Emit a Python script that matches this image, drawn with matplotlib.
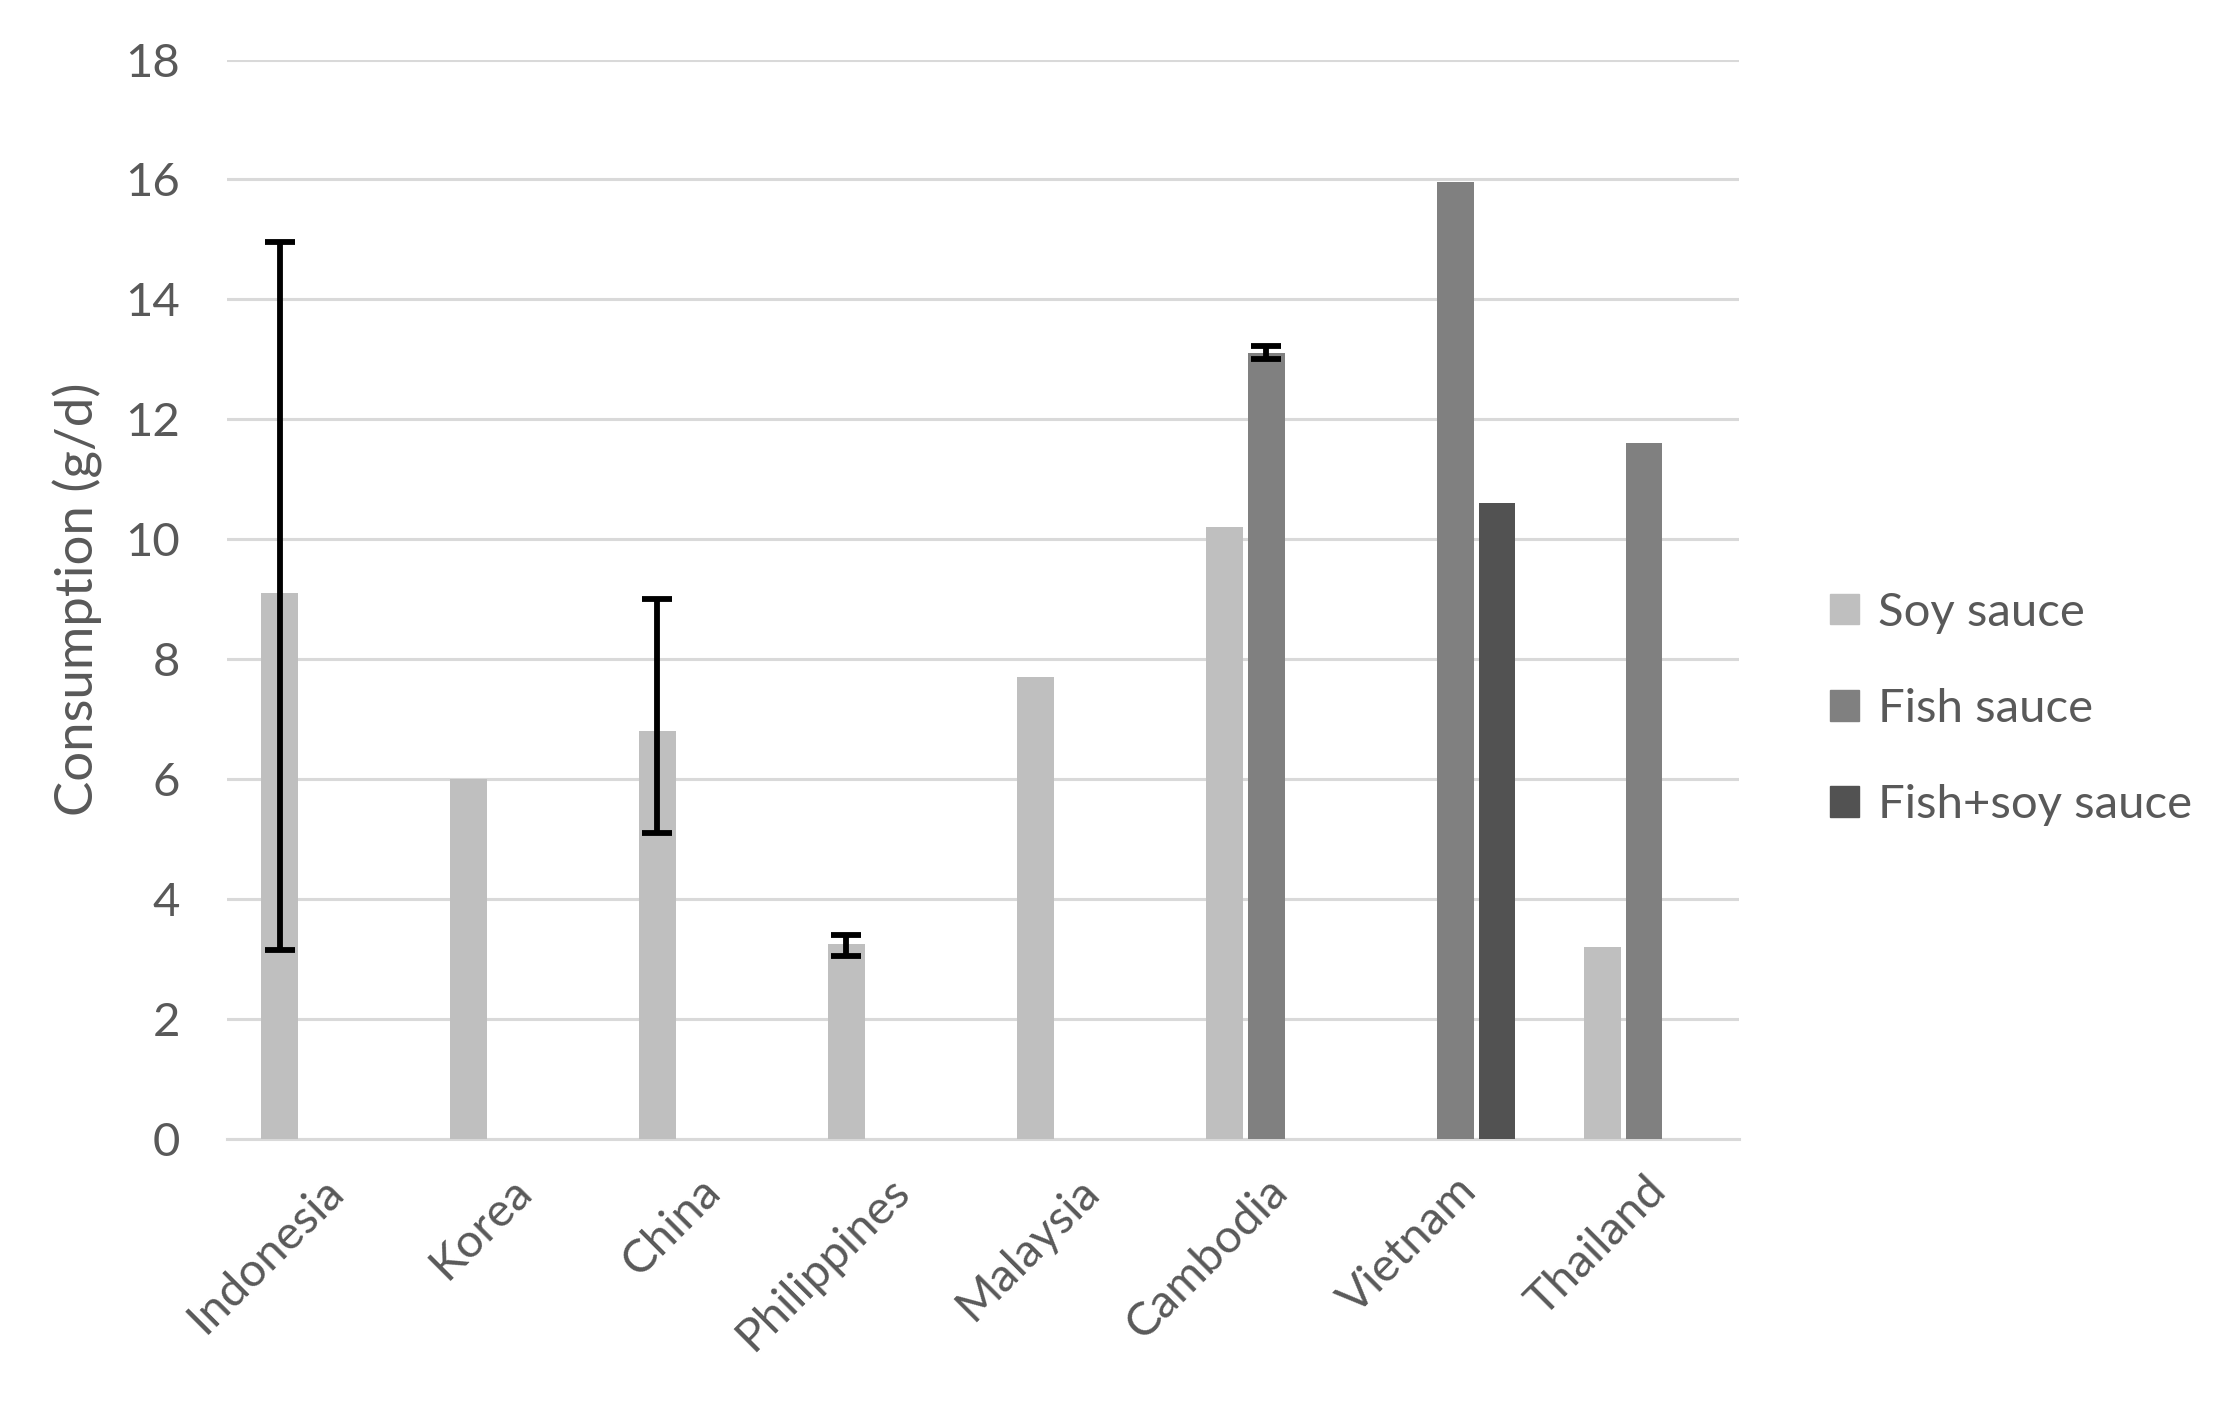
import numpy as np
import matplotlib.pyplot as plt
from matplotlib.patches import Patch

countries = ['Indonesia', 'Korea', 'China', 'Philippines', 'Malaysia',
             'Cambodia', 'Vietnam', 'Thailand']
soy = [9.1, 6.0, 6.8, 3.25, 7.7, 10.2, np.nan, 3.2]
fish = [np.nan, np.nan, np.nan, np.nan, np.nan, 13.1, 15.95, 11.6]
fish_soy = [np.nan, np.nan, np.nan, np.nan, np.nan, np.nan, 10.6, np.nan]

# error bars (low, high) given as absolute limits
soy_err_idx = [0, 2, 3]
soy_err_low = [3.15, 5.1, 3.05]
soy_err_high = [14.95, 9.0, 3.4]
fish_err_idx = [5]
fish_err_low = [13.0]
fish_err_high = [13.22]

plt.rcParams['font.family'] = ['Lato', 'DejaVu Sans']
txt = '#595959'

fig = plt.figure(figsize=(22.26, 14.04), dpi=100)
ax = fig.add_axes([0.102, 0.189, 0.679, 0.7686])

x = np.arange(len(countries))
w = 0.195
off = 0.222
ax.bar(x - off, soy, w, color='#bfbfbf', zorder=3)
ax.bar(x, fish, w, color='#808080', zorder=3)
ax.bar(x + off, fish_soy, w, color='#525252', zorder=3)

sv = np.array(soy)[soy_err_idx]
ax.errorbar(x[soy_err_idx] - off, sv,
            yerr=[sv - np.array(soy_err_low), np.array(soy_err_high) - sv],
            fmt='none', ecolor='black', elinewidth=4.2, capsize=11, capthick=4.2, zorder=4)
fv = np.array(fish)[fish_err_idx]
ax.errorbar(x[fish_err_idx], fv,
            yerr=[fv - np.array(fish_err_low), np.array(fish_err_high) - fv],
            fmt='none', ecolor='black', elinewidth=4.2, capsize=11, capthick=4.2, zorder=4)

ax.set_xlim(-0.5, 7.5)
ax.set_ylim(0, 18)
ax.set_yticks(range(0, 19, 2))
ax.grid(axis='y', color='#d9d9d9', linewidth=2.2, zorder=0)
for s in ['top', 'right', 'left']:
    ax.spines[s].set_visible(False)
ax.spines['bottom'].set_color('#d9d9d9')
ax.spines['bottom'].set_linewidth(2.2)
ax.tick_params(axis='both', length=0, labelsize=34, colors=txt)
ax.tick_params(axis='y', pad=34)
ax.tick_params(axis='x', pad=22)
ax.set_xticks(x)
ax.set_xticklabels(countries, rotation=45, ha='right', rotation_mode='anchor')
ax.set_ylabel('Consumption (g/d)', fontsize=38, color=txt, labelpad=16)

handles = [Patch(color='#bfbfbf'), Patch(color='#808080'), Patch(color='#525252')]
fig.legend(handles, ['Soy sauce', 'Fish sauce', 'Fish+soy sauce'],
           loc='center left', bbox_to_anchor=(0.803, 0.495), frameon=False,
           fontsize=34, labelcolor=txt, handlelength=0.62, handleheight=0.62,
           handletextpad=0.4, labelspacing=1.15)

fig.savefig('out.png', dpi=100)
